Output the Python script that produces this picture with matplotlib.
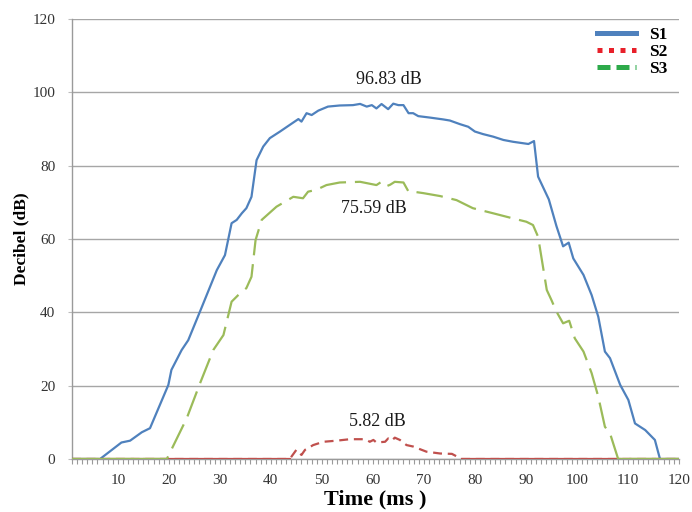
"""Decibel vs time for three sources S1-S3, peak levels annotated."""

import matplotlib

matplotlib.use("Agg")
import matplotlib.pyplot as plt
from matplotlib.lines import Line2D
import numpy as np

plt.rcParams["font.family"] = ["Liberation Serif", "DejaVu Serif"]

# values
s1_t = [1, 6.5, 10.7, 12.4, 14.7, 16.3, 19.9, 20.5, 22.5, 23.8, 26.1, 29.4, 31, 32.3, 33.3,
        34.3, 35.2, 36.2, 37.2, 38.5, 39.8, 41.8, 43.7, 45.4, 46, 47, 48, 49.3, 51.2, 53.5,
        56.1, 57.5, 58.8, 59.8, 60.7, 61.7, 63, 64, 65, 66, 67, 67.9, 68.9, 71.2, 73.8,
        75.1, 77.1, 78.7, 80, 81.6, 83.6, 85.6, 87.5, 90.5, 91.6, 92.4, 94.5, 96, 97.3,
        98.4, 99.3, 101.3, 102.9, 104.2, 105.5, 106.5, 108.5, 110.1, 111.4, 113.4, 115.3,
        116.3, 120]
s1_db = [0, 0, 4.5, 5.0, 7.3, 8.4, 20.2, 24.3, 29.7, 32.4, 40.2, 51.5, 55.6, 64.3, 65.2,
         67, 68.4, 71.5, 81.5, 85.2, 87.5, 89.3, 91.1, 92.7, 92, 94.3, 93.8, 95, 96.1, 96.4,
         96.5, 96.83, 96.1, 96.5, 95.6, 96.8, 95.4, 96.9, 96.5, 96.5, 94.3, 94.3, 93.5, 93.1,
         92.6, 92.3, 91.3, 90.6, 89.3, 88.6, 87.9, 87, 86.5, 85.9, 86.7, 77, 70.8, 63.5, 58,
         59, 54.7, 50.2, 44.7, 38.8, 29.3, 27.5, 20.2, 16.1, 9.7, 7.9, 5.2, 0, 0]

s2_t = [1, 43.7, 45, 46, 46.7, 48.3, 50.3, 52.9, 55.5, 58.1, 58.8, 59.4, 60.1, 60.7, 62.4,
        63, 63.7, 64.3, 65.3, 66.6, 67.9, 70.5, 73.2, 75.5, 77.4, 120]
s2_db = [0, 0, 2.5, 1.1, 2.5, 3.8, 4.7, 5.0, 5.4, 5.4, 5.2, 4.7, 5.2, 4.5, 4.7, 5.6, 5.0,
         5.82, 5.2, 3.8, 3.4, 2.0, 1.5, 1.4, 0, 0]

s3_t = [1, 19.6, 23.5, 26.1, 28.7, 30.7, 32.3, 33.6, 35.2, 36.2, 37, 38.2, 41.1, 44.4,
        46.3, 47.3, 48.9, 50.9, 53.5, 57.5, 60.7, 61.7, 62.7, 63.4, 64.3, 66, 67, 67.9,
        69.9, 73.2, 76.4, 79.6, 83.6, 87.5, 90.1, 91.4, 92.4, 94.1, 95, 96, 97.3, 98.5,
        99.6, 101.3, 102.9, 104.2, 105.5, 106.5, 108.1, 120]
s3_db = [0, 0, 11.1, 20.6, 29.7, 33.8, 42.9, 44.7, 46.6, 49.7, 59.7, 65.2, 68.8, 71.5,
         71.1, 72.9, 73.4, 74.7, 75.4, 75.59, 74.7, 75.6, 74.4, 74.8, 75.59, 75.4, 72.9,
         72.9, 72.5, 71.7, 70.6, 68.4, 67, 65.6, 64.7, 63.8, 60.6, 46.1, 43.4, 40.2, 37,
         37.7, 32.9, 29.3, 23.4, 17, 8.8, 7, 0, 0]

peak_labels = ["96.83 dB", "5.82 dB", "75.59 dB"]
label_pos = [(63.2, 103.4), (60.8, 10.2), (60.2, 68.2)]

BLUE, RED, GREEN = "#4F81BD", "#C0504D", "#9BBB59"

fig = plt.figure(figsize=(6.92, 5.12), dpi=100)
ax = fig.add_axes([0.104, 0.1035, 0.877, 0.8595])

series = [(s1_t, s1_db, BLUE, "-", None),
          (s2_t, s2_db, RED, "--", (4, 2.6)),
          (s3_t, s3_db, GREEN, "--", (12, 4))]
for t, db, col, ls, dash in series:
    t = np.array(t)
    db = np.array(db)
    kw = dict(color=col, lw=1.6, zorder=3)
    if dash is not None:
        ax.plot(t, db, ls=ls, dashes=dash, **kw)
        # flat stretches on the floor render solid in the original
        ax.plot(t, np.where(db == 0, 0.0, np.nan), ls="-", **kw)
    else:
        ax.plot(t, db, ls=ls, **kw)

for txt, (x, y) in zip(peak_labels, label_pos):
    ax.text(x, y, txt, ha="center", va="center", fontsize=13, color="#1a1a1a")

ax.set_xlim(1, 120)
ax.set_ylim(0, 120)
ax.set_yticks(np.arange(0, 121, 20))
ax.set_xticks(np.arange(10, 121, 10))
ax.set_xticks(np.arange(1, 121, 1), minor=True)
ax.grid(axis="y", color="#A6A6A6", lw=1.0, zorder=1)
for s in ("top", "right"):
    ax.spines[s].set_visible(False)
for s in ("left", "bottom"):
    ax.spines[s].set_color("#9a9a9a")
    ax.spines[s].set_linewidth(1.0)
ax.tick_params(axis="y", length=3, color="#bdbdbd", labelsize=11, labelcolor="#333333", pad=9)
ax.tick_params(axis="x", which="major", length=3.5, color="#9a9a9a", labelsize=11,
               labelcolor="#333333", pad=7)
ax.tick_params(axis="x", which="minor", length=3.5, color="#9a9a9a", width=0.8)

ax.set_xlabel("Time (ms )", fontsize=16, fontweight="bold", labelpad=2)
ax.set_ylabel("Decibel (dB)", fontsize=12.5, fontweight="bold", labelpad=2)

handles = [Line2D([], [], color=BLUE, lw=3.6),
           Line2D([], [], color="#E8202A", lw=3.6, ls=(0, (1.0, 1.3))),
           Line2D([], [], color="#2DAA4A", lw=3.6, ls=(0, (2.6, 1.2)))]
fig.legend(handles, ["S1", "S2", "S3"], loc="upper left", bbox_to_anchor=(0.862, 0.947),
           frameon=False, prop={"weight": "bold", "size": 12.5}, handlelength=2.3,
           handletextpad=0.7, labelspacing=0.05, borderpad=0, borderaxespad=0)

fig.savefig("out.png", dpi=100)
